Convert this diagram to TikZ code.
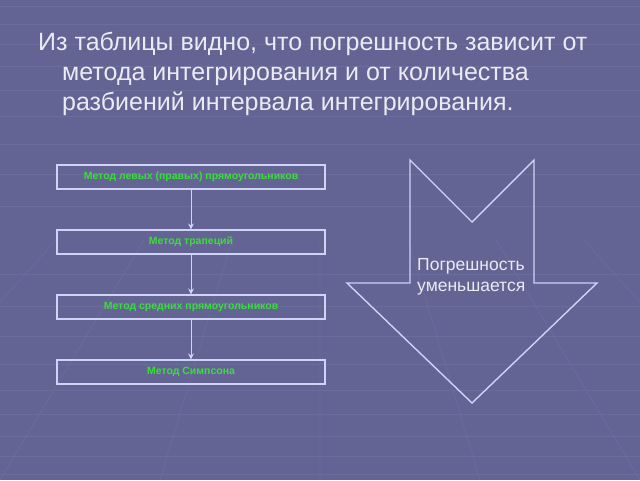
\documentclass[tikz,border=0pt]{standalone}
\usepackage{fontspec}
\setmainfont{Liberation Sans}
\usepackage{tikz}
\usetikzlibrary{arrows.meta,positioning}

\definecolor{slidebg}{RGB}{99,100,148}
\definecolor{gridline}{RGB}{118,120,170}
\definecolor{outline}{RGB}{205,212,245}
\definecolor{methodgreen}{RGB}{58,222,58}
\definecolor{titlegray}{RGB}{234,234,242}

\tikzset{
  method/.style={draw=outline, line width=1.2pt, minimum width=268pt,
    minimum height=24pt, inner sep=0pt, text=methodgreen,
    font=\bfseries\fontsize{10.5}{12}\selectfont},
  flow/.style={draw=outline, line width=1pt, -{Stealth[length=6pt,width=6pt]}},
  bigarrow/.style={draw=outline, line width=1.4pt, line join=miter},
}

\begin{document}
\begin{tikzpicture}[x=1pt,y=-1pt]
  \fill[slidebg] (0,0) rectangle (640,480);
  \useasboundingbox (0,0) rectangle (640,480);

  % faint perspective grid
  \begin{scope}[gridline, line width=0.7pt, opacity=0.4]
    \foreach \y in {6,24,44,66,90,116,144,174,206,274,306,336,364,390,414,436,456,474}
      \draw (0,\y) -- (640,\y);
    \foreach \x in {-480,-320,-160,0,160,320,480,640,800,960,1120}
      \draw (\x,480) -- (320+0.55*\x-176,240);
  \end{scope}

  % heading
  \node[anchor=north west, align=left, text=titlegray, inner sep=0pt,
    font=\fontsize{25}{30}\selectfont] (heading) at (38,31.8)
    {Из таблицы видно, что погрешность зависит от\\
     \hspace*{24pt}метода интегрирования и от количества\\
     \hspace*{24pt}разбиений интервала интегрирования.};

  % methods
  \node[method] (rect) at (191,177) {Метод левых (правых) прямоугольников};
  \node[method] (trap) at (191,242) {Метод трапеций};
  \node[method] (mid) at (191,307) {Метод средних прямоугольников};
  \node[method] (simp) at (191,372) {Метод Симпсона};

  \draw[flow] (rect) -- (trap);
  \draw[flow] (trap) -- (mid);
  \draw[flow] (mid) -- (simp);

  % error arrow
  \draw[bigarrow] (410,160) -- (472,222) -- (534,160) -- (534,283) -- (597,283)
    -- (472,403) -- (347,283) -- (410,283) -- cycle;
  \node[anchor=north west, text=titlegray, align=left, inner sep=0pt,
    font=\fontsize{17.5}{21}\selectfont] (error) at (417,258.5)
    {Погрешность\\уменьшается};
\end{tikzpicture}
\end{document}
